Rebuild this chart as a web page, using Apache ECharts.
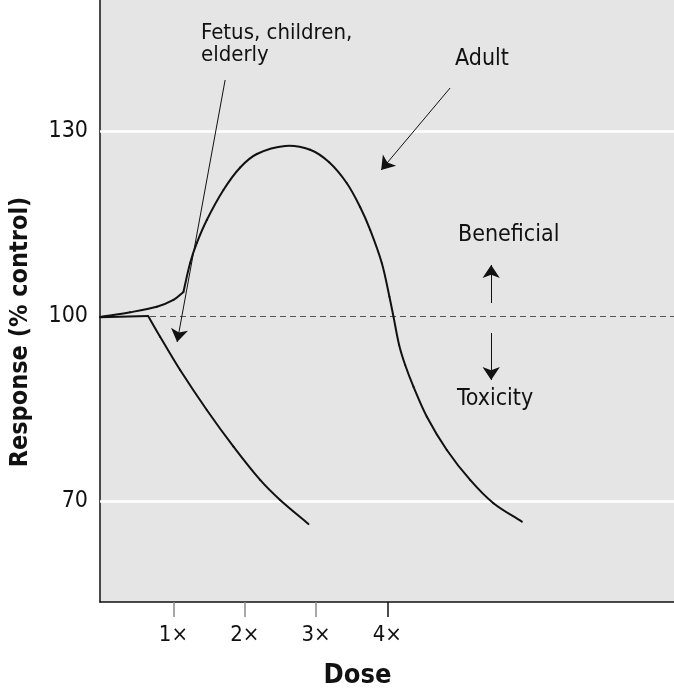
<!DOCTYPE html>
<html><head><meta charset="utf-8">
<script src="https://cdn.jsdelivr.net/npm/echarts@6/dist/echarts.min.js"></script>
<style>html,body{margin:0;padding:0;background:#fff}#c{width:674px;height:695px}</style>
</head><body><div id="c"></div>
<script>
// ---- data ----
const xTickValues = [1, 2, 3, 4];
const xTicksGray = [1, 2, 3];
const xTicksDark = [4];
const yTickValues = [70, 100, 130];
const gridValues = [70, 130];
const baselineValue = 100;

// Adult curve: low-dose rise, then the hormetic hump and decline
const adultLow = [[-0.03, 99.84], [0.393, 100.6], [0.767, 101.5], [1.0, 102.6], [1.14, 103.9]];
const adultHigh = [[1.14, 103.9], [1.234, 108.59], [1.328, 111.84], [1.468, 115.57], [1.701, 120.43],
  [1.936, 124.08], [2.17, 126.27], [2.567, 127.57], [2.917, 126.95], [3.184, 124.92], [3.432, 121.52],
  [3.618, 117.67], [3.759, 113.95], [3.923, 108.55], [4.029, 103.13], [4.086, 99.89], [4.165, 95.3],
  [4.25, 92.05], [4.366, 88.54], [4.554, 83.67], [4.834, 78.27], [5.161, 73.41], [5.488, 69.63],
  [5.886, 66.65]];
// Fetus, children, elderly curve
const fetusFlat = [[-0.03, 99.8], [0.645, 100.0]];
const fetusDown = [[0.645, 100.0], [0.813, 96.64], [1.094, 91.24], [1.468, 84.76], [1.842, 78.81],
  [2.216, 73.41], [2.496, 70.16], [2.893, 66.27]];

// annotation arrows [from, to] in data units
const arrowAdult = [[4.88, 136.97], [3.913, 123.67]];
const arrowFetus = [[1.725, 138.27], [1.052, 95.78]];
const arrowBeneficial = [[5.456, 102.1], [5.456, 108.27]];
const arrowToxicity = [[5.456, 97.24], [5.456, 89.62]];

// ---- chart ----
const FONT = '"DejaVu Sans Condensed", "Liberation Sans Narrow", sans-serif';
const chart = echarts.init(document.getElementById('c'), null, {renderer: 'canvas'});

// smooth curve through the data points (chord-length scaled Hermite), placed with the axes' scales
function spline(points) {
  return {
    type: 'custom', z: 5, silent: true, clip: false,
    data: [points[0]],
    renderItem: function (params, api) {
      const p = points.map(d => api.coord(d));
      const n = p.length;
      const tan = p.map((pt, i) => {
        const a = p[Math.max(i - 1, 0)], b = p[Math.min(i + 1, n - 1)];
        const dx = b[0] - a[0], dy = b[1] - a[1], l = Math.hypot(dx, dy) || 1;
        return [dx / l, dy / l];
      });
      const children = [];
      for (let i = 0; i < n - 1; i++) {
        const p1 = p[i], p2 = p[i + 1];
        const L = Math.hypot(p2[0] - p1[0], p2[1] - p1[1]) / 3;
        children.push({
          type: 'bezierCurve',
          shape: {
            x1: p1[0], y1: p1[1], x2: p2[0], y2: p2[1],
            cpx1: p1[0] + tan[i][0] * L, cpy1: p1[1] + tan[i][1] * L,
            cpx2: p2[0] - tan[i + 1][0] * L, cpy2: p2[1] - tan[i + 1][1] * L
          },
          style: {stroke: '#111', lineWidth: 2, fill: null, lineCap: 'round'}
        });
      }
      return {type: 'group', children: children};
    }
  };
}
function arrow(pair) {
  return [{coord: pair[0]}, {coord: pair[1]}];
}
const xRange = {type: 'value', min: -0.03, max: 8.02};

const option = {
  backgroundColor: '#fff',
  animation: false,
  grid: {left: 100, right: 0, top: 0, bottom: 93, show: true, backgroundColor: '#e5e5e5', borderWidth: 0},
  xAxis: [
    Object.assign({}, xRange, {
      axisLine: {show: true, onZero: false, lineStyle: {color: '#111', width: 1.5}},
      axisTick: {show: true, customValues: xTicksGray, length: 15, lineStyle: {color: '#8a8a8a', width: 1.5}},
      axisLabel: {customValues: xTickValues, formatter: v => v + '\u00d7', margin: 22,
        fontFamily: FONT, fontSize: 22, color: '#111'},
      splitLine: {show: false}
    }),
    Object.assign({}, xRange, {
      position: 'bottom',
      axisLine: {show: false, onZero: false},
      axisTick: {show: true, customValues: xTicksDark, length: 15, lineStyle: {color: '#111', width: 1.5}},
      axisLabel: {show: false},
      splitLine: {show: false}
    })
  ],
  yAxis: {
    type: 'value', min: 53.62, max: 151.24,
    axisLine: {show: true, onZero: false, lineStyle: {color: '#111', width: 1.5}},
    axisTick: {show: false},
    axisLabel: {customValues: yTickValues, margin: 12, fontFamily: FONT, fontSize: 23, color: '#111'},
    splitLine: {show: false}
  },
  series: [
    {
      type: 'line', data: [], z: 1, silent: true,
      markLine: {
        silent: true, symbol: ['none', 'none'], label: {show: false},
        lineStyle: {color: '#fff', width: 2.5, type: 'solid'},
        data: gridValues.map(v => ({yAxis: v}))
      }
    },
    {
      type: 'line', data: [], z: 2, silent: true,
      markLine: {
        silent: true, symbol: ['none', 'none'], label: {show: false},
        lineStyle: {color: '#555', width: 1, type: [6, 4]},
        data: [{yAxis: baselineValue}]
      }
    },
    spline(adultLow),
    spline(adultHigh),
    {type: 'line', data: fetusFlat, symbol: 'none', z: 5, silent: true, lineStyle: {color: '#111', width: 2}},
    spline(fetusDown),
    {
      type: 'line', data: [], z: 6, silent: true,
      markLine: {
        silent: true, symbol: ['none', 'arrow'], symbolSize: 13, label: {show: false},
        lineStyle: {color: '#111', width: 1, type: 'solid'},
        itemStyle: {color: '#111'},
        data: [arrow(arrowAdult), arrow(arrowFetus), arrow(arrowBeneficial), arrow(arrowToxicity)]
      }
    }
  ],
  graphic: [
    {type: 'text', x: 201, y: 22, z: 10, style: {text: 'Fetus, children,\nelderly', font: '22px ' + FONT, fill: '#111', lineHeight: 22, textVerticalAlign: 'top'}},
    {type: 'text', x: 455, y: 48, z: 10, style: {text: 'Adult', font: '23px ' + FONT, fill: '#111', textVerticalAlign: 'top'}},
    {type: 'text', x: 458, y: 224, z: 10, style: {text: 'Beneficial', font: '23px ' + FONT, fill: '#111', textVerticalAlign: 'top'}},
    {type: 'text', x: 457, y: 388, z: 10, style: {text: 'Toxicity', font: '23px ' + FONT, fill: '#111', textVerticalAlign: 'top'}},
    {type: 'text', x: 357.5, y: 676, z: 10, style: {text: 'Dose', font: 'bold 27px ' + FONT, fill: '#111', textAlign: 'center', textVerticalAlign: 'middle'}},
    {type: 'text', x: 20, y: 332, rotation: Math.PI / 2, z: 10, style: {text: 'Response (% control)', font: 'bold 25px ' + FONT, fill: '#111', textAlign: 'center', textVerticalAlign: 'middle'}}
  ]
};
chart.setOption(option);
</script>
</body></html>
